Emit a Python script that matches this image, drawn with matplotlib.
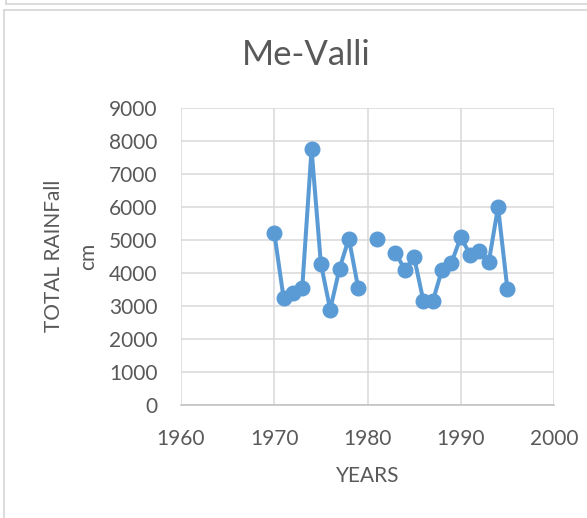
import numpy as np
import matplotlib
matplotlib.use('Agg')
import matplotlib.pyplot as plt
from matplotlib.lines import Line2D

plt.rcParams['font.family'] = ['Lato', 'DejaVu Sans']

# 年份与降雨量 (1980, 1982 无数据)
years = [1970, 1971, 1972, 1973, 1974, 1975, 1976, 1977, 1978, 1979, 1980,
         1981, 1982, 1983, 1984, 1985, 1986, 1987, 1988, 1989, 1990, 1991,
         1992, 1993, 1994, 1995]
rainfall = [5220, 3245, 3395, 3545, 7750, 4285, 2890, 4135, 5045, 3550, np.nan,
            5035, np.nan, 4610, 4105, 4475, 3145, 3150, 4105, 4305, 5085, 4560,
            4680, 4325, 6000, 3515]

xticks = [1960, 1970, 1980, 1990, 2000]
yticks = list(range(0, 9001, 1000))

TEXT = '#595959'
GRID = '#D9D9D9'
BLUE = '#5B9BD5'

fig = plt.figure(figsize=(5.87, 5.18), dpi=100)
W, H = 587, 518

# 外框 (Excel 图表区边框)
def fline(x0, y0, x1, y1):
    fig.add_artist(Line2D([x0 / W, x1 / W], [1 - y0 / H, 1 - y1 / H],
                          color=GRID, lw=1.3, transform=fig.transFigure))

fline(6, 0, 6, 4)
fline(6, 4, W, 4)
fline(4, 10, W, 10)
fline(4, 10, 4, H)

ax = fig.add_axes([181 / W, 1 - 405 / H, (554 - 181) / W, (405 - 108) / H])
ax.plot(years, rainfall, color=BLUE, lw=2.9, marker='o', markersize=10.5,
        markerfacecolor=BLUE, markeredgecolor=BLUE, zorder=3)

ax.set_xlim(1960, 2000)
ax.set_ylim(0, 9000)
ax.set_xticks(xticks)
ax.set_yticks(yticks)
ax.grid(True, color=GRID, lw=1.1)
ax.set_axisbelow(True)
for s in ['top', 'right', 'left']:
    ax.spines[s].set_visible(False)
ax.spines['bottom'].set_color('#BFBFBF')
ax.spines['bottom'].set_linewidth(1.1)
ax.tick_params(length=0, labelsize=15, colors=TEXT)
ax.tick_params(axis='x', pad=17)
ax.tick_params(axis='y', pad=17)

fig.text(306 / W, 1 - 55 / H, 'Me-Valli', ha='center', va='center',
         fontsize=25, color=TEXT)
fig.text(367.5 / W, 1 - 476 / H, 'YEARS', ha='center', va='center',
         fontsize=15, color=TEXT)
fig.text(71 / W, 1 - 256 / H, 'TOTAL RAINFall\ncm', ha='center', va='center',
         rotation=90, fontsize=15, color=TEXT, linespacing=1.85)

fig.savefig('out.png', dpi=100)
